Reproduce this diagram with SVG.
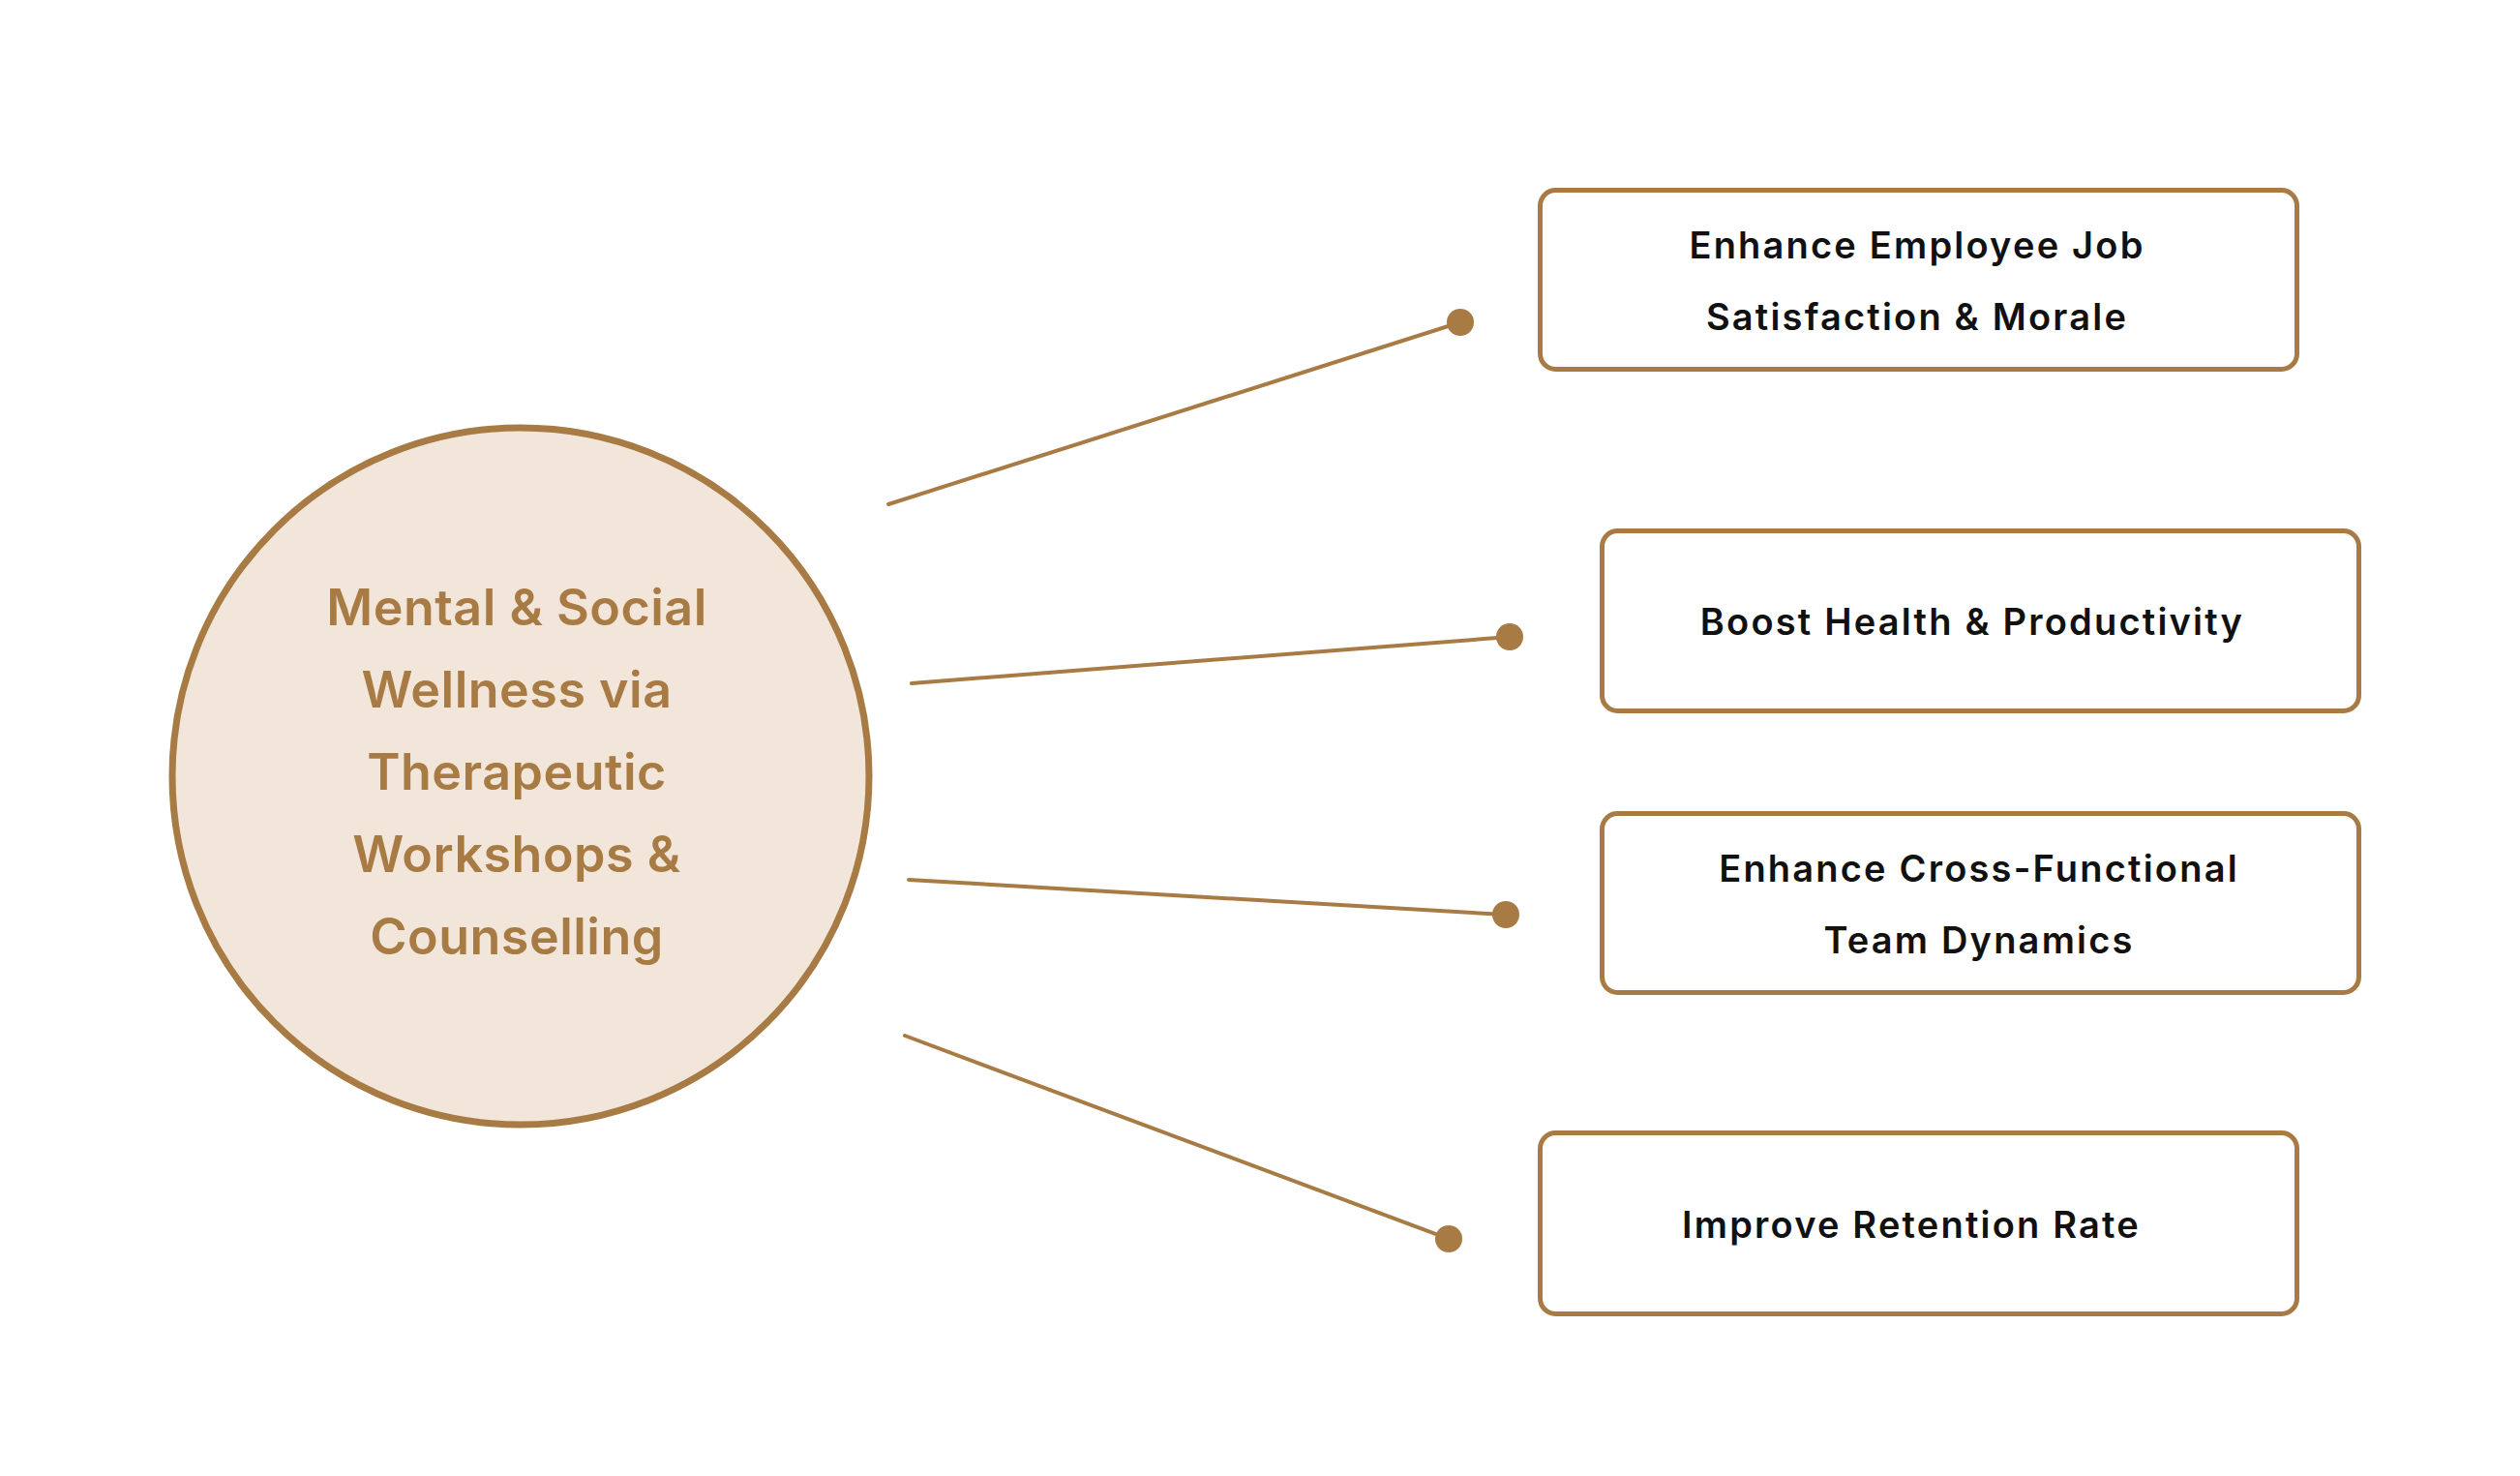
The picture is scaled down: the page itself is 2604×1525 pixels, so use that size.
<svg xmlns="http://www.w3.org/2000/svg" width="2604" height="1525" viewBox="0 0 2604 1525">
<style>
.conn{stroke:#A87B45;stroke-width:4;fill:none;stroke-linecap:round}
.dot{fill:#A87B45}
.box{fill:#FFFFFF;stroke:#A87B45;stroke-width:5}
.btxt{font-family:Inter,"Liberation Sans",sans-serif;font-weight:600;font-size:38px;letter-spacing:2.2px;fill:#111111;text-anchor:middle}
.ctxt{font-family:Inter,"Liberation Sans",sans-serif;font-weight:600;font-size:52px;letter-spacing:0.5px;fill:#A87B45;text-anchor:middle}
</style>
<rect width="2604" height="1525" fill="#FFFFFF"/>
<g id="connectors">
<line class="conn" x1="918" y1="521" x2="1509" y2="333"/>
<circle class="dot" cx="1509" cy="333" r="14"/>
<line class="conn" x1="942" y1="706" x2="1560" y2="658"/>
<circle class="dot" cx="1560" cy="658" r="14"/>
<line class="conn" x1="939" y1="909" x2="1556" y2="945"/>
<circle class="dot" cx="1556" cy="945" r="14"/>
<line class="conn" x1="935" y1="1070" x2="1497" y2="1280"/>
<circle class="dot" cx="1497" cy="1280" r="14"/>
</g>
<g id="center">
<circle cx="538" cy="802" r="360" fill="#F2E6DA" stroke="#A87B45" stroke-width="7"/>
<text class="ctxt" x="534" y="646">Mental &amp; Social</text>
<text class="ctxt" x="534" y="731">Wellness via</text>
<text class="ctxt" x="534" y="816">Therapeutic</text>
<text class="ctxt" x="534" y="901">Workshops &amp;</text>
<text class="ctxt" x="534" y="986">Counselling</text>
</g>
<g id="node1">
<rect class="box" x="1591.5" y="196.5" width="782" height="185" rx="16"/>
<text class="btxt" x="1981" y="267">Enhance Employee Job</text>
<text class="btxt" x="1981" y="341">Satisfaction &amp; Morale</text>
</g>
<g id="node2">
<rect class="box" x="1655.5" y="548.5" width="782" height="186" rx="16"/>
<text class="btxt" x="2038" y="656">Boost Health &amp; Productivity</text>
</g>
<g id="node3">
<rect class="box" x="1655.5" y="840.5" width="782" height="185" rx="16"/>
<text class="btxt" x="2045" y="911">Enhance Cross-Functional</text>
<text class="btxt" x="2045" y="985">Team Dynamics</text>
</g>
<g id="node4">
<rect class="box" x="1591.5" y="1170.5" width="782" height="187" rx="16"/>
<text class="btxt" x="1975" y="1279">Improve Retention Rate</text>
</g>
</svg>
